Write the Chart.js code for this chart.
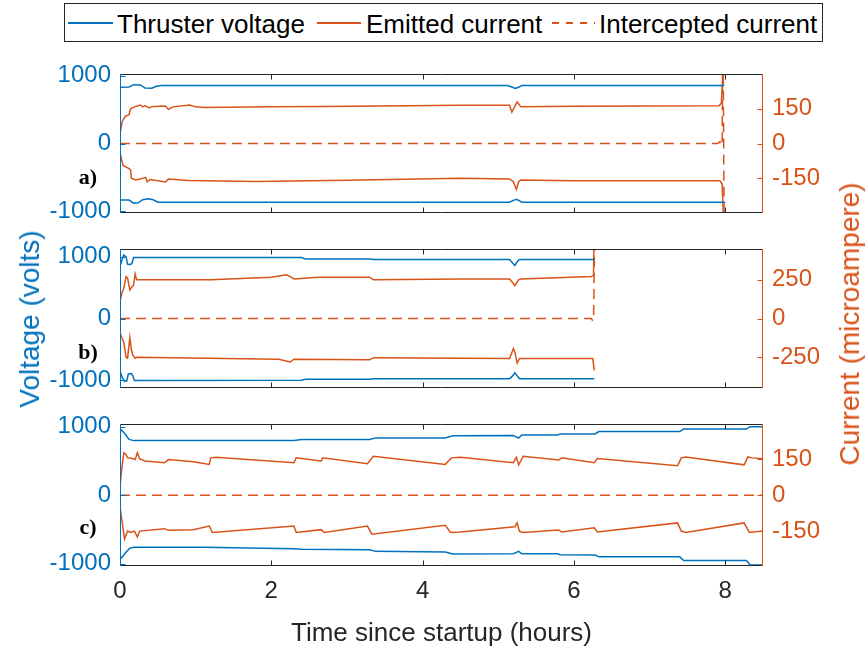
<!DOCTYPE html>
<html>
<head>
<meta charset="utf-8">
<script src="https://cdn.jsdelivr.net/npm/chart.js@4.4.1/dist/chart.umd.min.js"></script>
<style>
  body { margin: 0; background: #fff; }
  #page { position: relative; width: 866px; height: 652px; overflow: hidden;
          font-family: 'Liberation Sans', Arial, sans-serif; }
  canvas { position: absolute; left: 0; }
  .txt { position: absolute; white-space: nowrap; line-height: 1; }
  .centre { transform: translate(-50%, -50%); }
  .vert { transform: translate(-50%, -50%) rotate(-90deg); }
  .tag { font-family: 'Liberation Serif', 'Times New Roman', serif; font-weight: bold; font-size: 22px; color: #000; }
  #legend { position: absolute; left: 64px; top: 3px; width: 757px; height: 37px;
            border: 1px solid #262626; background: #fff; }
  #legend svg { position: absolute; left: 0; top: 0; }
  #legend span { position: absolute; top: 5px; font-size: 26px; color: #000; white-space: nowrap; }
</style>
</head>
<body>
<div id="page">
  <div id="legend">
    <svg width="757" height="37">
      <line x1="3" y1="19" x2="48" y2="19" stroke="#0072BD" stroke-width="2"/>
      <line x1="252" y1="19" x2="296" y2="19" stroke="#D95319" stroke-width="2"/>
      <line x1="487" y1="19" x2="530" y2="19" stroke="#D95319" stroke-width="2" stroke-dasharray="7,7"/>
    </svg>
    <span style="left:52px">Thruster voltage</span>
    <span style="left:301px">Emitted current</span>
    <span style="left:534px">Intercepted current</span>
  </div>

  <canvas id="panelA" width="866" height="185" style="top:51px"></canvas>
  <canvas id="panelB" width="866" height="185" style="top:226px"></canvas>
  <canvas id="panelC" width="866" height="251" style="top:401px"></canvas>

  <div class="txt vert" style="left:30px; top:319px; font-size:28px; color:#0072BD">Voltage (volts)</div>
  <div class="txt vert" style="left:850px; top:324px; font-size:28px; color:#D95319">Current (microampere)</div>
  <div class="txt centre tag" style="left:88px; top:177px">a)</div>
  <div class="txt centre tag" style="left:88px; top:352px">b)</div>
  <div class="txt centre tag" style="left:88px; top:527px">c)</div>
</div>

<script>
/* ── colours / shared ticks ───────────────────────────────────────────── */
const BLUE   = '#0072BD';
const ORANGE = '#D95319';
const AXIS   = '#262626';
const TICK   = 5;

const T_MAX   = 8.5;
const X_TICKS = [0, 2, 4, 6, 8];
const V_TICKS = [-1000, 0, 1000];

/* ── panel a) : [hours, value] ────────────────────────────────────────── */
const A_VOLT_HI = [[0,830],[0.12,835],[0.18,868],[0.27,865],[0.33,818],[0.42,815],[0.48,845],[0.55,856],
  [5.12,856],[5.18,835],[5.22,812],[5.27,830],[5.31,856],[7.99,856]];
const A_VOLT_LO = [[0,-833],[0.12,-835],[0.18,-880],[0.24,-875],[0.3,-830],[0.38,-815],[0.44,-830],[0.5,-867],
  [5.15,-867],[5.2,-840],[5.24,-825],[5.28,-845],[5.31,-867],[8.0,-867]];
const A_EMIT_HI = [[0,40],[0.03,95],[0.07,117],[0.12,124],[0.14,150],[0.19,158],[0.27,166],[0.3,158],[0.33,163],
  [0.38,154],[0.45,160],[0.6,162],[0.64,147],[0.7,158],[0.92,166],[1.0,158],[1.12,155],[2.0,158],[2.7,160],
  [4.5,165],[5.15,165],[5.18,135],[5.22,160],[5.25,179],[5.3,158],[6.0,161],[7.92,163],[7.95,175],[7.97,300],[7.985,700]];
const A_EMIT_LO = [[0,-40],[0.04,-95],[0.12,-108],[0.14,-115],[0.15,-150],[0.21,-157],[0.28,-152],[0.34,-146],
  [0.36,-165],[0.4,-155],[0.6,-166],[0.64,-153],[0.9,-160],[1.8,-164],[3.0,-158],[4.5,-150],[5.15,-153],
  [5.2,-165],[5.24,-198],[5.27,-165],[5.3,-157],[6.0,-161],[7.93,-161],[7.96,-175],[7.975,-300],[7.99,-700]];
const A_INTER   = [[0,0],[7.9,0],[7.93,8],[7.94,-8],[7.96,0],[7.97,600],[7.99,-600]];
const A_I_TICKS = [-150, 0, 150];

/* ── panel b) ─────────────────────────────────────────────────────────── */
const B_VOLT_HI = [[0,850],[0.03,960],[0.05,1028],[0.08,1000],[0.1,880],[0.14,877],[0.16,900],[0.18,988],
  [2.4,988],[2.45,966],[3.3,966],[3.35,957],[5.15,957],[5.19,900],[5.22,860],[5.25,920],[5.28,957],[6.27,957]];
const B_VOLT_LO = [[0,-850],[0.03,-960],[0.06,-1020],[0.09,-1010],[0.11,-900],[0.15,-892],[0.17,-930],[0.19,-1005],
  [2.4,-1000],[2.45,-985],[3.3,-985],[3.35,-975],[5.15,-975],[5.19,-930],[5.22,-880],[5.25,-930],[5.28,-975],[6.27,-975]];
const B_EMIT_HI = [[0,112],[0.03,170],[0.05,195],[0.08,270],[0.1,262],[0.13,184],[0.16,204],[0.18,215],[0.2,286],
  [0.22,249],[0.6,250],[1.2,250],[2.0,266],[2.2,282],[2.25,270],[2.3,255],[2.62,266],[3.3,266],[3.35,249],
  [4.5,255],[5.15,255],[5.2,225],[5.22,211],[5.27,250],[5.3,255],[6.23,270],[6.26,280],[6.27,700]];
const B_EMIT_LO = [[0,-92],[0.03,-130],[0.05,-153],[0.08,-250],[0.1,-256],[0.13,-123],[0.15,-200],[0.17,-236],
  [0.2,-256],[0.22,-250],[2.1,-262],[2.25,-280],[2.3,-262],[3.3,-266],[3.35,-252],[4.5,-256],[5.15,-258],
  [5.2,-194],[5.22,-215],[5.25,-287],[5.28,-258],[6.25,-258],[6.27,-334]];
const B_INTER   = [[0,0],[6.23,0],[6.25,-15],[6.26,-5],[6.28,700]];
const B_I_TICKS = [-250, 0, 250];

/* ── panel c) ─────────────────────────────────────────────────────────── */
const C_VOLT_HI = [[0,930],[0.02,953],[0.06,906],[0.12,815],[0.18,798],[2.3,798],[2.4,815],[3.3,815],[3.38,838],
  [4.3,838],[4.4,869],[5.2,872],[5.24,850],[5.27,836],[5.31,880],[5.78,880],[5.82,895],[6.28,895],[6.33,930],
  [7.4,930],[7.45,967],[8.28,967],[8.33,1001],[8.5,1001]];
const C_VOLT_LO = [[0,-892],[0.02,-916],[0.07,-845],[0.13,-774],[0.18,-760],[1.1,-762],[2.3,-783],[2.4,-790],
  [3.3,-797],[3.38,-821],[4.3,-830],[4.4,-859],[5.2,-855],[5.24,-835],[5.27,-821],[5.31,-855],[5.78,-855],
  [5.82,-869],[6.28,-875],[6.33,-901],[7.4,-901],[7.45,-954],[8.28,-954],[8.33,-1020],[8.5,-1020]];
const C_EMIT_HI = [[0,34],[0.02,101],[0.05,176],[0.08,169],[0.1,155],[0.14,154],[0.17,151],[0.2,148],[0.23,176],
  [0.26,151],[0.33,142],[0.59,135],[0.64,148],[0.97,139],[1.18,128],[1.2,155],[1.27,158],[2.3,135],[2.33,155],
  [2.66,142],[2.68,155],[3.27,131],[3.35,162],[4.3,128],[4.38,155],[4.5,158],[5.2,135],[5.24,158],[5.27,126],
  [5.33,162],[5.8,146],[5.84,155],[6.27,135],[6.31,152],[7.37,122],[7.42,155],[7.48,159],[8.25,126],[8.3,159],
  [8.36,155],[8.5,151]];
const C_EMIT_LO = [[0,-47],[0.03,-115],[0.06,-182],[0.1,-149],[0.14,-155],[0.19,-149],[0.23,-173],[0.26,-149],
  [0.59,-139],[0.64,-146],[0.97,-143],[1.18,-128],[1.22,-155],[2.3,-128],[2.33,-155],[2.66,-143],[2.7,-155],
  [3.27,-128],[3.33,-162],[4.3,-125],[4.37,-155],[4.5,-153],[5.22,-131],[5.25,-115],[5.28,-149],[5.33,-155],
  [5.8,-145],[5.84,-153],[6.27,-135],[6.31,-153],[7.37,-115],[7.42,-149],[7.48,-155],[8.25,-115],[8.32,-155],
  [8.5,-149]];
const C_INTER   = [[0,0],[8.5,0]];
const C_I_TICKS = [-150, 0, 150];

/* ── helpers ──────────────────────────────────────────────────────────── */
const pts = arr => arr.map(([x, y]) => ({ x, y }));

function line(data, color, axis, dashed) {
  return {
    data: pts(data), yAxisID: axis,
    borderColor: color, borderWidth: 1.5,
    borderDash: dashed ? [10, 6] : [],
    pointRadius: 0, tension: 0, fill: false,
  };
}

/* box with inward ticks on all four sides, drawn from the chart's scales */
const boxTicks = {
  id: 'boxTicks',
  afterDraw(chart) {
    const { ctx, chartArea: a, scales } = chart;
    const L = Math.round(a.left) + 0.5, R = Math.round(a.right) - 0.5;
    const T = Math.round(a.top) + 0.5,  B = Math.round(a.bottom) - 0.5;
    ctx.save();
    ctx.lineWidth = 1;

    ctx.strokeStyle = AXIS;
    ctx.beginPath();
    ctx.moveTo(L, T); ctx.lineTo(R, T);
    ctx.moveTo(L, B); ctx.lineTo(R, B);
    scales.x.ticks.forEach(t => {
      const px = Math.round(scales.x.getPixelForValue(t.value)) + 0.5;
      ctx.moveTo(px, T); ctx.lineTo(px, T + TICK);
      ctx.moveTo(px, B); ctx.lineTo(px, B - TICK);
    });
    ctx.stroke();

    ctx.strokeStyle = BLUE;
    ctx.beginPath();
    ctx.moveTo(L, T - 0.5); ctx.lineTo(L, B + 0.5);
    scales.y.ticks.forEach(t => {
      const py = Math.round(scales.y.getPixelForValue(t.value)) + 0.5;
      ctx.moveTo(L, py); ctx.lineTo(L + TICK, py);
    });
    ctx.stroke();

    ctx.strokeStyle = ORANGE;
    ctx.beginPath();
    ctx.moveTo(R, T - 0.5); ctx.lineTo(R, B + 0.5);
    scales.y1.ticks.forEach(t => {
      const py = Math.round(scales.y1.getPixelForValue(t.value)) + 0.5;
      ctx.moveTo(R, py); ctx.lineTo(R - TICK, py);
    });
    ctx.stroke();
    ctx.restore();
  },
};

const TICK_FONT = { family: "'Liberation Sans', Arial, sans-serif", size: 24 };

function makePanel(id, p) {
  const showX = !!p.showX;
  return new Chart(document.getElementById(id), {
    type: 'line',
    data: {
      datasets: [
        line(p.voltHi, BLUE, 'y'),
        line(p.voltLo, BLUE, 'y'),
        line(p.emitHi, ORANGE, 'y1'),
        line(p.emitLo, ORANGE, 'y1'),
        line(p.inter, ORANGE, 'y1', true),
      ],
    },
    plugins: [boxTicks],
    options: {
      responsive: false,
      animation: false,
      devicePixelRatio: 1,
      layout: { padding: { top: 20, bottom: p.padBottom, left: 0, right: 0 } },
      plugins: { legend: { display: false }, tooltip: { enabled: false } },
      scales: {
        x: {
          type: 'linear', min: 0, max: T_MAX,
          grid: { display: false, drawTicks: false }, border: { display: false },
          afterBuildTicks: s => { s.ticks = X_TICKS.map(v => ({ value: v })); },
          afterFit: s => { s.height = p.xHeight; },
          ticks: { display: showX, color: AXIS, font: TICK_FONT, padding: 11,
                   maxRotation: 0, callback: v => String(v) },
          title: { display: showX, text: 'Time since startup (hours)', color: AXIS,
                   font: { family: TICK_FONT.family, size: 26 }, padding: { top: 0, bottom: 3 } },
        },
        y: {
          position: 'left', min: -p.vLim, max: p.vLim,
          grid: { display: false, drawTicks: false }, border: { display: false },
          afterBuildTicks: s => { s.ticks = V_TICKS.map(v => ({ value: v })); },
          afterFit: s => { s.width = 120; },
          ticks: { color: BLUE, font: TICK_FONT, padding: 9, callback: v => String(v) },
        },
        y1: {
          position: 'right', min: -p.iLim, max: p.iLim,
          grid: { display: false, drawTicks: false }, border: { display: false },
          afterBuildTicks: s => { s.ticks = p.iTicks.map(v => ({ value: v })); },
          afterFit: s => { s.width = 103; },
          ticks: { color: ORANGE, font: TICK_FONT, padding: 9, callback: v => String(v) },
        },
      },
    },
  });
}

makePanel('panelA', { voltHi: A_VOLT_HI, voltLo: A_VOLT_LO, emitHi: A_EMIT_HI, emitLo: A_EMIT_LO,
  inter: A_INTER, iTicks: A_I_TICKS, vLim: 1020, iLim: 298, padBottom: 20, xHeight: 0 });
makePanel('panelB', { voltHi: B_VOLT_HI, voltLo: B_VOLT_LO, emitHi: B_EMIT_HI, emitLo: B_EMIT_LO,
  inter: B_INTER, iTicks: B_I_TICKS, vLim: 1120, iLim: 445, padBottom: 20, xHeight: 0 });
makePanel('panelC', { voltHi: C_VOLT_HI, voltLo: C_VOLT_LO, emitHi: C_EMIT_HI, emitLo: C_EMIT_LO,
  inter: C_INTER, iTicks: C_I_TICKS, vLim: 1035, iLim: 294, padBottom: 0, xHeight: 86, showX: true });
</script>
</body>
</html>
